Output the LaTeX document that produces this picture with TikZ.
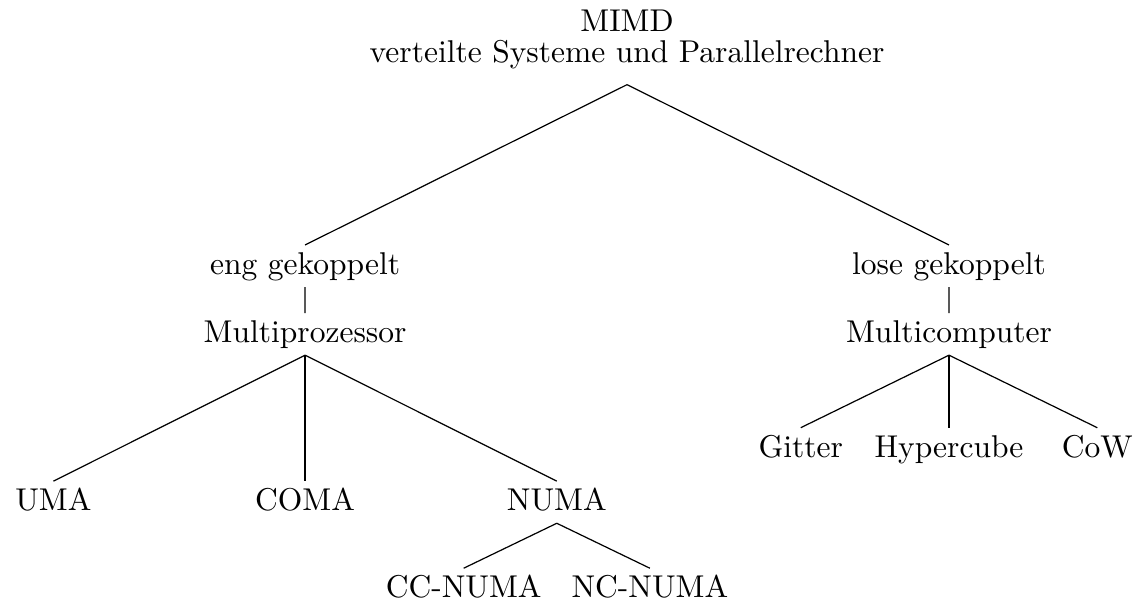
\documentclass[tikz,border=0pt]{standalone}
\usepackage{amsmath}
\begin{document}
\begin{tikzpicture}[parent anchor=south,child anchor=north]
    \tikzstyle{every node}=[inner sep=2.5pt,text height=7pt,text depth=1.5pt,
      font=\fontsize{10.4pt}{12.5pt}\selectfont]
    \tikzstyle{level 1}=[sibling distance=74.7mm,level distance=25.8mm]
    \tikzstyle{level 2}=[level distance=7.9mm]
    \tikzstyle{level 3}=[sibling distance=17.2mm,level distance=13.3mm]
    \tikzstyle{level 4}=[sibling distance=21.6mm,level distance=10.1mm]
    \useasboundingbox (0,0) rectangle (13.155,-6.972);
    \node (MIMD) [align=center,text height=17pt,text depth=4.7pt] at (7.274,-0.506)
      {MIMD\\[-2.5pt]verteilte Systeme und Parallelrechner} %L0
    child{ node (eng) {eng gekoppelt}   %L1
      child[level 3/.style={sibling distance=29.2mm,level distance=19.5mm}]{ node (MP) {Multiprozessor}
        child{ node (UMA) {UMA}}
        child{ node (COMA) {COMA}}
        child{ node (NUMA) {NUMA}
          child{ node (CCNUMA) {CC-NUMA}}
          child{ node (NCNUMA) {NC-NUMA}}}}}
    child{ node (lose) {lose gekoppelt}   %L1
      child{ node (MC) {Multicomputer}
        child{ node (Gitter) {Gitter}}
        child{ node (Hyper) {Hypercube}}
        child{ node (CoW) {CoW}}}}
    ;
\end{tikzpicture}
\end{document}
